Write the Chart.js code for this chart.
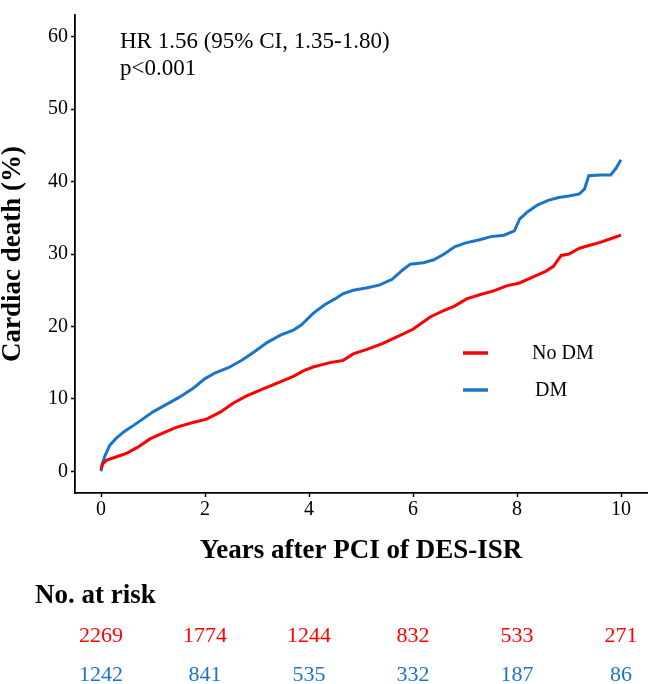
<!DOCTYPE html>
<html>
<head>
<meta charset="utf-8">
<script src="https://cdn.jsdelivr.net/npm/chart.js@4.4.1/dist/chart.umd.min.js"></script>
<style>
  html, body { margin: 0; padding: 0; background: #ffffff; }
  #wrap { width: 648px; height: 684px; }
</style>
</head>
<body>
<div id="wrap"><canvas id="c" width="648" height="684"></canvas></div>
<script>
// ---- Data ----
const seriesLabels = ["No DM", "DM"];

const noDmYears = [0, 0.03, 0.1, 0.3, 0.5, 0.7, 0.95, 1.2, 1.46, 1.75, 2.03, 2.3, 2.54, 2.8, 3.06, 3.4, 3.7, 3.9, 4.08, 4.4, 4.65, 4.85, 5.1, 5.4, 5.7, 6.0, 6.33, 6.6, 6.8, 7.03, 7.3, 7.55, 7.8, 8.05, 8.3, 8.55, 8.7, 8.85, 9.0, 9.2, 9.4, 9.6, 9.8, 10.0];
const noDmDeath = [0.3, 1.0, 1.5, 2.0, 2.5, 3.3, 4.5, 5.3, 6.1, 6.7, 7.2, 8.2, 9.4, 10.4, 11.2, 12.2, 13.1, 13.9, 14.4, 15.0, 15.3, 16.2, 16.8, 17.6, 18.6, 19.6, 21.3, 22.2, 22.8, 23.8, 24.4, 24.9, 25.6, 26.0, 26.8, 27.6, 28.3, 29.8, 30.0, 30.8, 31.2, 31.6, 32.1, 32.6];

const dmYears = [0, 0.03, 0.08, 0.17, 0.3, 0.45, 0.6, 0.8, 1.0, 1.25, 1.5, 1.78, 2.0, 2.2, 2.45, 2.7, 2.95, 3.2, 3.45, 3.7, 3.85, 4.08, 4.3, 4.5, 4.65, 4.85, 5.1, 5.35, 5.6, 5.8, 5.95, 6.2, 6.4, 6.6, 6.8, 7.0, 7.3, 7.5, 7.75, 7.95, 8.05, 8.2, 8.4, 8.6, 8.8, 9.0, 9.2, 9.3, 9.38, 9.6, 9.8, 9.9, 10.0];
const dmDeath = [0, 1.2, 2.2, 3.6, 4.6, 5.5, 6.2, 7.2, 8.2, 9.2, 10.2, 11.5, 12.8, 13.6, 14.3, 15.3, 16.5, 17.8, 18.8, 19.5, 20.2, 21.8, 23.0, 23.8, 24.5, 25.0, 25.3, 25.7, 26.5, 27.8, 28.6, 28.8, 29.2, 30.0, 31.0, 31.5, 32.0, 32.4, 32.6, 33.2, 34.8, 35.8, 36.8, 37.4, 37.8, 38.0, 38.3, 39.0, 40.8, 40.9, 40.9, 41.8, 43.0];

const xTicks = [0, 2, 4, 6, 8, 10];
const yTicks = [0, 10, 20, 30, 40, 50, 60];

const atRiskNoDm = [2269, 1774, 1244, 832, 533, 271];
const atRiskDm = [1242, 841, 535, 332, 187, 86];

const annotationLines = ["HR 1.56 (95% CI, 1.35-1.80)", "p<0.001"];
const xTitle = "Years after PCI of DES-ISR";
const yTitle = "Cardiac death (%)";
const atRiskTitle = "No. at risk";

// ---- Styles ----
const RED = "#FF0000";
const BLUE = "#1C74C8";
const SERIF = '"Liberation Serif", "Times New Roman", serif';

function toPoints(xs, ys) { return xs.map((x, i) => ({ x: x, y: ys[i] })); }

const extras = {
  id: "extras",
  afterDraw(chart) {
    const ctx = chart.ctx;
    const xs = chart.scales.x;
    ctx.save();
    ctx.fillStyle = "#000";
    ctx.textBaseline = "alphabetic";
    ctx.textAlign = "left";
    // annotation
    ctx.font = "23px " + SERIF;
    ctx.fillText(annotationLines[0], 120, 48);
    ctx.fillText(annotationLines[1], 120, 75);
    // legend
    const legendRows = [
      { label: seriesLabels[0], color: RED, y: 353, tx: 532 },
      { label: seriesLabels[1], color: BLUE, y: 390, tx: 535 }
    ];
    ctx.font = "20px " + SERIF;
    ctx.textBaseline = "middle";
    legendRows.forEach(r => {
      ctx.strokeStyle = r.color;
      ctx.lineWidth = 3.5;
      ctx.beginPath();
      ctx.moveTo(463, r.y);
      ctx.lineTo(488, r.y);
      ctx.stroke();
      ctx.fillStyle = "#000";
      ctx.fillText(r.label, r.tx, r.y + 1);
    });
    // at-risk table
    ctx.textBaseline = "alphabetic";
    ctx.font = "bold 27px " + SERIF;
    ctx.fillText(atRiskTitle, 35, 603);
    ctx.font = "22px " + SERIF;
    ctx.textAlign = "center";
    xTicks.forEach((t, i) => {
      const px = xs.getPixelForValue(t);
      ctx.fillStyle = RED;
      ctx.fillText(String(atRiskNoDm[i]), px, 642);
      ctx.fillStyle = BLUE;
      ctx.fillText(String(atRiskDm[i]), px, 681);
    });
    ctx.restore();
  }
};

new Chart(document.getElementById("c"), {
  type: "line",
  data: {
    datasets: [
      { label: seriesLabels[0], data: toPoints(noDmYears, noDmDeath), borderColor: RED, borderWidth: 3, pointRadius: 0, tension: 0, fill: false },
      { label: seriesLabels[1], data: toPoints(dmYears, dmDeath), borderColor: BLUE, borderWidth: 3, pointRadius: 0, tension: 0, fill: false }
    ]
  },
  options: {
    responsive: false,
    animation: false,
    devicePixelRatio: 1,
    layout: { padding: { top: 1, right: 1, left: 0, bottom: 0 } },
    plugins: { legend: { display: false }, tooltip: { enabled: false } },
    scales: {
      x: {
        type: "linear",
        min: -0.5, max: 10.5,
        afterBuildTicks: s => { s.ticks = xTicks.map(v => ({ value: v })); },
        afterFit: s => { s.height = 191; },
        ticks: { font: { family: SERIF, size: 20 }, color: "#000", padding: 1, maxRotation: 0, autoSkip: false },
        grid: { drawOnChartArea: false, drawTicks: true, tickLength: 4, tickColor: "#000", tickWidth: 1.5 },
        border: { display: true, color: "#000", width: 1.8 },
        title: { display: true, text: xTitle, color: "#000", font: { family: SERIF, size: 27, weight: "bold", lineHeight: 1.2 }, padding: { top: 0, bottom: 117 } }
      },
      y: {
        type: "linear",
        min: -3, max: 63,
        afterBuildTicks: s => { s.ticks = yTicks.map(v => ({ value: v })); },
        afterFit: s => { s.width = 75; },
        ticks: { font: { family: SERIF, size: 20 }, color: "#000", padding: 3, autoSkip: false },
        grid: { drawOnChartArea: false, drawTicks: true, tickLength: 4, tickColor: "#000", tickWidth: 1.5 },
        border: { display: true, color: "#000", width: 1.8 },
        title: { display: true, text: yTitle, color: "#000", font: { family: SERIF, size: 27, weight: "bold", lineHeight: 1.0 }, padding: { top: 0, bottom: 0 } }
      }
    }
  },
  plugins: [extras]
});
</script>
</body>
</html>
